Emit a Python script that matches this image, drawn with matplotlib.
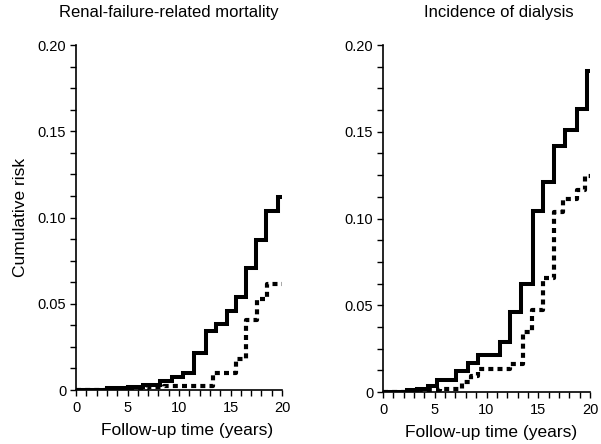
import numpy as np
import matplotlib
matplotlib.use('Agg')
import matplotlib.pyplot as plt
from matplotlib.ticker import MultipleLocator, FuncFormatter

plt.rcParams['font.family'] = ['Liberation Sans', 'DejaVu Sans']

# Renal-failure-related mortality (years, cumulative risk)
mort_solid_t = [0, 3.0, 5.0, 6.5, 8.2, 9.3, 10.4, 11.5, 12.6, 13.6, 14.7, 15.5, 16.5, 17.5, 18.4, 19.6, 20]
mort_solid_y = [0, 0.001, 0.002, 0.003, 0.005, 0.0077, 0.010, 0.0215, 0.034, 0.038, 0.046, 0.054, 0.071, 0.087, 0.104, 0.112, 0.112]
mort_dash_t = [0, 3.0, 5.0, 7.0, 8.5, 13.3, 15.5, 16.5, 17.6, 18.5, 20]
mort_dash_y = [0, 0.0005, 0.001, 0.0015, 0.0023, 0.010, 0.018, 0.0405, 0.053, 0.0615, 0.0615]

# Incidence of dialysis
dial_solid_t = [0, 2.3, 3.3, 4.3, 5.2, 7.1, 8.2, 9.2, 11.3, 12.3, 13.3, 14.5, 15.5, 16.5, 17.6, 18.7, 19.7, 20]
dial_solid_y = [0, 0.001, 0.002, 0.0035, 0.007, 0.012, 0.0165, 0.0215, 0.029, 0.046, 0.0625, 0.1045, 0.121, 0.142, 0.151, 0.163, 0.185, 0.185]
dial_dash_t = [0, 3.5, 5.5, 7.6, 8.5, 9.2, 12.3, 13.5, 14.4, 15.5, 16.5, 17.4, 18.7, 19.5, 20]
dial_dash_y = [0, 0.001, 0.002, 0.006, 0.0095, 0.013, 0.016, 0.0345, 0.0475, 0.0655, 0.104, 0.111, 0.1165, 0.1245, 0.1245]

titles = ['Renal-failure-related mortality', 'Incidence of dialysis']

fig = plt.figure(figsize=(6.01, 4.44), dpi=100)
ax1 = fig.add_axes([0.1265, 0.1216, 0.3428, 0.777])
ax2 = fig.add_axes([0.6373, 0.117, 0.3444, 0.7815])


def fmt(v, pos):
    if abs(v) < 1e-9:
        return '0'
    return f'{v:.2f}'


# (axis, series..., title x, xlabel x) - title/label offsets as in the scan
panels = [
    (ax1, mort_solid_t, mort_solid_y, mort_dash_t, mort_dash_y, titles[0], 0.45, 0.54),
    (ax2, dial_solid_t, dial_solid_y, dial_dash_t, dial_dash_y, titles[1], 0.56, 0.52),
]

for ax, st, sy, dt, dy, title, tx, lx in panels:
    ax.step(st, sy, where='post', color='black', lw=2.9, solid_joinstyle='miter')
    ax.step(dt, dy, where='post', color='black', lw=3.0, linestyle=(0, (1.2, 1.0)))
    ax.set_xlim(0, 20)
    ax.set_ylim(0, 0.20)
    ax.spines['top'].set_visible(False)
    ax.spines['right'].set_visible(False)
    ax.spines['left'].set_linewidth(1.2)
    ax.spines['bottom'].set_linewidth(1.2)
    ax.xaxis.set_major_locator(MultipleLocator(5))
    ax.xaxis.set_minor_locator(MultipleLocator(1))
    ax.yaxis.set_major_locator(MultipleLocator(0.05))
    ax.yaxis.set_minor_locator(MultipleLocator(0.0125))
    ax.yaxis.set_major_formatter(FuncFormatter(fmt))
    ax.tick_params(which='both', direction='out', length=4, width=1, labelsize=10.5, pad=3)
    ax.tick_params(axis='x', which='both', pad=4)
    ax.set_xlabel('Follow-up time (years)', fontsize=12.5)
    ax.xaxis.set_label_coords(lx, -0.095)
    ax.set_title(title, fontsize=12, pad=20, x=tx)
    for s in ax.spines.values():
        s.set_clip_on(False)

ax1.set_ylabel('Cumulative risk', fontsize=12.5, labelpad=7)

fig.savefig('out.png', dpi=100)
